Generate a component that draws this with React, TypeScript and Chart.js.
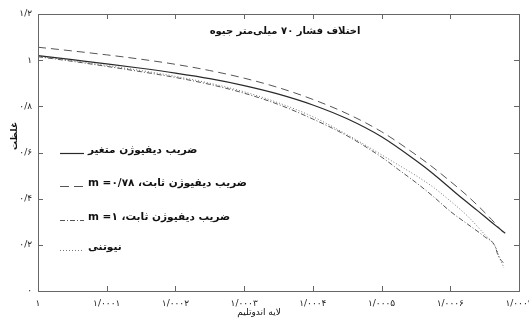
import { useEffect, useRef } from 'react';
import { Chart, registerables } from 'chart.js';

Chart.register(...registerables);

// ---------- data ----------
const xTickValues = [1, 1.0001, 1.0002, 1.0003, 1.0004, 1.0005, 1.0006, 1.0007];
const xTickLabels = ['۱', '۱/۰۰۰۱', '۱/۰۰۰۲', '۱/۰۰۰۳', '۱/۰۰۰۴', '۱/۰۰۰۵', '۱/۰۰۰۶', '۱/۰۰۰۷'];
const yTickValues = [0, 0.2, 0.4, 0.6, 0.8, 1, 1.2];
const yTickLabels = ['۰', '۰/۲', '۰/۴', '۰/۶', '۰/۸', '۱', '۱/۲'];

const chartTitle = 'اختلاف فشار ۷۰ میلی‌متر جیوه';
const xTitle = 'لایه اندوتلیم';
const yTitle = 'غلظت';
const seriesNames = [
  'ضریب دیفیوژن متغیر',
  'ضریب دیفیوژن ثابت، m =۰/۷۸',
  'ضریب دیفیوژن ثابت، m =۱',
  'نیوتنی',
];

const xUpper = [1.0, 1.00005, 1.0001, 1.00015, 1.0002, 1.00025, 1.0003, 1.00035, 1.0004, 1.00045, 1.0005, 1.00055, 1.000575, 1.0006, 1.00062, 1.00064, 1.00066, 1.00068];
const variableD = [1.02, 1.002, 0.984, 0.965, 0.944, 0.92, 0.89, 0.853, 0.806, 0.746, 0.668, 0.565, 0.508, 0.445, 0.395, 0.347, 0.298, 0.25];
const constD078 = [1.056, 1.04, 1.023, 1.004, 0.982, 0.955, 0.922, 0.881, 0.83, 0.768, 0.69, 0.59, 0.535, 0.475, 0.425, 0.37, 0.31, 0.243];

const xLower = [1.0, 1.00005, 1.0001, 1.00015, 1.0002, 1.00025, 1.0003, 1.00035, 1.0004, 1.00045, 1.0005, 1.000525, 1.00055, 1.000575, 1.0006, 1.000625, 1.00065, 1.000665, 1.00067, 1.000678];
const constD1 = [1.015, 0.995, 0.973, 0.95, 0.925, 0.895, 0.857, 0.808, 0.745, 0.672, 0.58, 0.525, 0.47, 0.41, 0.345, 0.29, 0.235, 0.195, 0.15, 0.12];
const newtonian = [1.018, 0.998, 0.977, 0.955, 0.93, 0.9, 0.863, 0.815, 0.755, 0.677, 0.59, 0.545, 0.5, 0.45, 0.39, 0.325, 0.245, 0.195, 0.16, 0.1];

const FONT = "'DejaVu Sans', sans-serif";

const pts = (xs: number[], ys: number[]) => xs.map((x, i) => ({ x, y: ys[i] }));

const decorPlugin = {
  id: 'decor',
  afterDatasetsDraw(chart: any) {
    const { ctx, chartArea: a, scales } = chart;
    const xs = scales.x;
    const ys = scales.y;
    ctx.save();
    // frame
    ctx.strokeStyle = '#666';
    ctx.lineWidth = 1;
    ctx.setLineDash([]);
    ctx.strokeRect(Math.round(a.left) + 0.5, Math.round(a.top) + 0.5, Math.round(a.right - a.left), Math.round(a.bottom - a.top));
    // inward ticks
    const tl = 5;
    ctx.beginPath();
    xTickValues.forEach((v) => {
      const px = Math.round(xs.getPixelForValue(v)) + 0.5;
      ctx.moveTo(px, a.bottom);
      ctx.lineTo(px, a.bottom - tl);
      ctx.moveTo(px, a.top);
      ctx.lineTo(px, a.top + tl);
    });
    yTickValues.forEach((v) => {
      const py = Math.round(ys.getPixelForValue(v)) + 0.5;
      ctx.moveTo(a.left, py);
      ctx.lineTo(a.left + tl, py);
      ctx.moveTo(a.right, py);
      ctx.lineTo(a.right - tl, py);
    });
    ctx.stroke();

    // title inside plot
    ctx.fillStyle = '#111';
    ctx.font = `bold 10px ${FONT}`;
    ctx.textAlign = 'center';
    ctx.textBaseline = 'middle';
    (ctx as any).direction = 'rtl';
    ctx.fillText(chartTitle, 285, 31);

    // x title
    ctx.font = `9px ${FONT}`;
    ctx.fillText(xTitle, 259, 313);

    // y title
    ctx.save();
    ctx.translate(15, 136);
    ctx.rotate(-Math.PI / 2);
    ctx.font = `bold 9px ${FONT}`;
    ctx.fillText(yTitle, 0, 0);
    ctx.restore();

    // legend
    const rows = [150, 183, 217, 247];
    chart.data.datasets.forEach((ds: any, i: number) => {
      const y = rows[i];
      ctx.save();
      ctx.strokeStyle = ds.borderColor;
      ctx.lineWidth = ds.borderWidth;
      ctx.setLineDash(ds.legendDash || ds.borderDash || []);
      ctx.beginPath();
      ctx.moveTo(60, y + 3.5);
      ctx.lineTo(84, y + 3.5);
      ctx.stroke();
      ctx.restore();
      ctx.fillStyle = '#111';
      ctx.font = `bold 10.5px ${FONT}`;
      ctx.textAlign = 'left';
      ctx.textBaseline = 'middle';
      (ctx as any).direction = 'rtl';
      ctx.fillText(ds.label, 88, y);
    });
    ctx.restore();
  },
};

export default function App() {
  const ref = useRef<HTMLCanvasElement | null>(null);
  useEffect(() => {
    document.body.style.margin = '0';
    const canvas = ref.current;
    if (!canvas) return;
    const chart = new Chart(canvas, {
      type: 'line',
      data: {
        datasets: [
          {
            label: seriesNames[0],
            data: pts(xUpper, variableD),
            borderColor: '#2a2a2a',
            borderWidth: 1.2,
            borderDash: [],
            pointRadius: 0,
            cubicInterpolationMode: 'monotone',
          },
          {
            label: seriesNames[1],
            data: pts(xUpper, constD078),
            borderColor: '#555',
            borderWidth: 1,
            borderDash: [8, 5],
            legendDash: [9, 5],
            pointRadius: 0,
            cubicInterpolationMode: 'monotone',
          },
          {
            label: seriesNames[2],
            data: pts(xLower, constD1),
            borderColor: '#555',
            borderWidth: 1,
            borderDash: [5, 2, 1, 2],
            pointRadius: 0,
            cubicInterpolationMode: 'monotone',
          },
          {
            label: seriesNames[3],
            data: pts(xLower, newtonian),
            borderColor: '#777',
            borderWidth: 1,
            borderDash: [1, 2],
            pointRadius: 0,
            cubicInterpolationMode: 'monotone',
          },
        ],
      },
      options: {
        animation: false,
        responsive: false,
        maintainAspectRatio: false,
        layout: { padding: { top: 14, right: 10, left: 0, bottom: 0 } },
        plugins: { legend: { display: false }, tooltip: { enabled: false } },
        scales: {
          x: {
            type: 'linear',
            min: 1,
            max: 1.0007,
            grid: { display: false, drawTicks: false },
            border: { display: false },
            afterBuildTicks: (s: any) => {
              s.ticks = xTickValues.map((v) => ({ value: v }));
            },
            afterFit: (s: any) => {
              s.height = 31;
              s.paddingLeft = 0;
              s.paddingRight = 0;
            },
            ticks: {
              autoSkip: false,
              maxRotation: 0,
              padding: 7,
              color: '#222',
              font: { family: FONT, size: 9 },
              callback: (_v: any, i: number) => xTickLabels[i],
            },
          },
          y: {
            type: 'linear',
            min: 0,
            max: 1.2,
            grid: { display: false, drawTicks: false },
            border: { display: false },
            afterBuildTicks: (s: any) => {
              s.ticks = yTickValues.map((v) => ({ value: v }));
            },
            afterFit: (s: any) => {
              s.width = 38;
              s.paddingTop = 0;
              s.paddingBottom = 0;
            },
            ticks: {
              padding: 6,
              color: '#222',
              font: { family: FONT, size: 9 },
              callback: (_v: any, i: number) => yTickLabels[i],
            },
          },
        },
      } as any,
      plugins: [decorPlugin],
    });
    return () => chart.destroy();
  }, []);
  return (
    <div style={{ width: 529, height: 322 }}>
      <canvas ref={ref} width={529} height={322} style={{ display: 'block' }} />
    </div>
  );
}
